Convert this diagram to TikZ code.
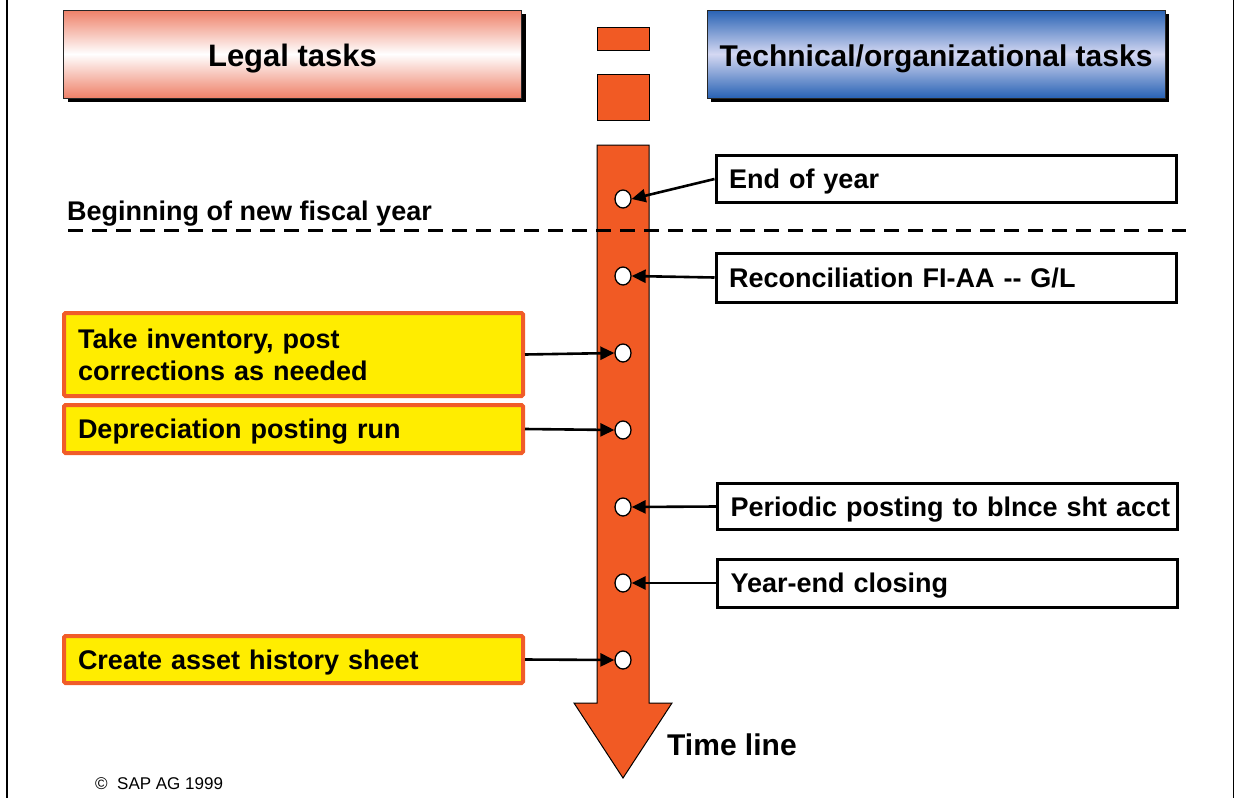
\documentclass[tikz,border=0pt]{standalone}
\usepackage{fontspec}
\setmainfont{Liberation Sans}
\usetikzlibrary{arrows.meta,shadows,shapes.geometric}
\definecolor{tlorange}{RGB}{241,90,36}
\definecolor{yel}{RGB}{255,237,0}
\definecolor{boxorange}{RGB}{240,92,40}
\definecolor{salmon}{RGB}{238,128,104}
\definecolor{bluedark}{RGB}{40,98,180}
\definecolor{bluelight}{RGB}{212,216,242}
\begin{document}
\begin{tikzpicture}[x=1pt,y=-1pt,
  header/.style={draw=black!85, line width=1pt, minimum width=458pt, minimum height=88pt, inner sep=0pt,
    text height=26pt, text depth=1pt,
    general shadow={fill=black, shadow xshift=4pt, shadow yshift=-4pt}},
  legalhdr/.style={header, font=\fontsize{31}{36}\selectfont\bfseries, top color=salmon, bottom color=salmon, middle color=white},
  techhdr/.style={header, font=\fontsize{30}{36}\selectfont\bfseries, top color=bluedark, bottom color=bluedark, middle color=bluelight},
  sq/.style={draw=black, line width=0.8pt, fill=tlorange, minimum width=52pt, inner sep=0pt},
  techbox/.style={draw=black, line width=3pt, fill=white, text width=434pt, inner xsep=13pt,
    align=left, font=\fontsize{27}{32}\selectfont\bfseries, text height=22pt, text depth=3pt,
    general shadow={fill=black, shadow xshift=1.5pt, shadow yshift=-1.5pt}},
  legalbox/.style={draw=boxorange, line width=4pt, fill=yel, rounded corners=1.5pt, text width=431pt,
    inner xsep=14pt, align=left, font=\fontsize{27}{32}\selectfont\bfseries},
  onel/.style={text height=22pt, text depth=3pt},
  dot/.style={ellipse, draw=black, line width=1.3pt, fill=white, minimum width=16pt, minimum height=18pt, inner sep=0pt},
  conn/.style={line width=2.6pt, -{Triangle[length=14pt,width=13pt]}},
  dashline/.style={line width=3pt, dash pattern=on 15pt off 9pt},
  plain/.style={inner sep=0pt, font=\fontsize{27}{32}\selectfont\bfseries}
]
\useasboundingbox (0,0) rectangle (1234,798);
% page borders
\draw[line width=2.5pt] (7,0) -- (7,798);
\draw[line width=1pt] (1233,0) -- (1233,798);

% headers
\node[legalhdr] (legal) at (292.5,54) {Legal tasks};
\node[techhdr] (tech) at (936,54) {Technical/organizational tasks};
\node[sq, minimum height=23pt] (sq1) at (623,38.5) {};
\node[sq, minimum height=46pt] (sq2) at (623,97) {};

% timeline arrow
\draw[fill=tlorange, line width=1pt] (597,145) -- (649,145) -- (649,703) -- (672,703) -- (623,778)
  -- (574,703) -- (597,703) -- cycle;
\node[plain, font=\fontsize{30}{34}\selectfont\bfseries, anchor=west] (tl) at (667,745) {Time line};

% dashed separator
\coordinate (dL) at (68,230);
\coordinate (dR) at (1186,230);
\draw[dashline] (dL) -- (dR);
\node[plain, anchor=west] (begin) at (67,214) {Beginning of new fiscal year};

% dots
\node[dot] (c1) at (623,199) {};
\node[dot] (c2) at (623,276) {};
\node[dot] (c3) at (623,353) {};
\node[dot] (c4) at (623,430) {};
\node[dot] (c5) at (623,507) {};
\node[dot] (c6) at (623,583) {};
\node[dot] (c7) at (623,660) {};

% right boxes
\node[techbox, minimum height=47pt] (eoy) at (946,179) {\mbox{End of year}};
\node[techbox, minimum height=49pt] (rec) at (946,277.5) {\mbox{Reconciliation FI-AA -{}- G/L}};
\node[techbox, minimum height=46pt] (per) at (947.5,506.5) {\mbox{Periodic posting to blnce sht acct}};
\node[techbox, minimum height=48pt] (ye) at (947.5,583) {\mbox{Year-end closing}};

% left boxes
\node[legalbox, minimum height=83pt] (take) at (293.5,354.5) {Take inventory, post\\corrections as needed};
\node[legalbox, onel, minimum height=48pt] (dep) at (293.5,429) {Depreciation posting run};
\node[legalbox, onel, minimum height=47pt] (cre) at (293.5,659.5) {Create asset history sheet};

% connectors
\draw[conn] (eoy.west) -- (c1.east);
\draw[conn] (rec.west) -- (c2.east);
\draw[conn] (per.west) -- (c5.east);
\draw[conn] (ye.west) -- (c6.east);
\draw[conn] (take.east) -- (c3.west);
\draw[conn] (dep.east) -- (c4.west);
\draw[conn] (cre.east) -- (c7.west);

% copyright
\node[inner sep=0pt, anchor=west, font=\fontsize{17}{20}\selectfont] (copy) at (95,784) {\textcopyright\ \ SAP AG 1999};
\end{tikzpicture}
\end{document}
